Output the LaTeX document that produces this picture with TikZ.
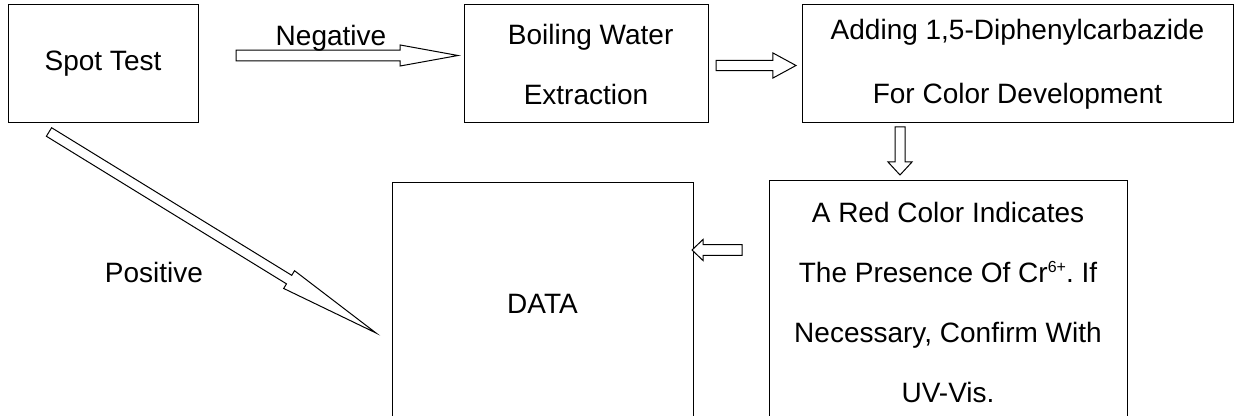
\documentclass[tikz,border=0pt]{standalone}
\usepackage{fontspec}
\setmainfont{Liberation Sans}
\usetikzlibrary{calc}
\frenchspacing

\tikzset{every picture/.style={line width=0.75pt}}
\tikzset{
  box/.style={draw, rectangle, inner sep=0pt, align=center, font=\fontsize{21}{45}\selectfont},
  lbl/.style={inner sep=0pt, font=\fontsize{21}{25}\selectfont},
  blockarrow/.style={draw, fill=white, line join=miter}
}

% small raised charge
\newcommand{\chg}[1]{\raisebox{0.33em}{\fontsize{12}{12}\selectfont #1}}

% block arrow: from, to, shaft half width, head half width, head length
\newcommand{\blockarrow}[5]{%
  \path ($(#2)!#5!(#1)$) coordinate (bah);
  \draw[blockarrow] ($(#1)!#3!90:(#2)$) -- ($(bah)!#3!90:(#2)$) -- ($(bah)!#4!90:(#2)$)
    -- (#2) -- ($(bah)!#4!-90:(#2)$) -- ($(bah)!#3!-90:(#2)$) -- ($(#1)!#3!-90:(#2)$) -- cycle ;
}

\begin{document}
\begin{tikzpicture}[x=0.75pt,y=0.75pt,yscale=-1,xscale=1]
	\useasboundingbox (0,0) rectangle (1235,416);
	\clip (0,0) rectangle (1235,416);

	%Shape: Rectangle [spot]
	\node[box, minimum width=142.5pt, minimum height=88.5pt] (spot) at (103,64) {Spot Test};
	%Shape: Rectangle [boil]
	\node[box, minimum width=183pt, minimum height=88.5pt] (boil) at (586,64) {\hspace*{7pt}Boiling Water\\Extraction};
	%Shape: Rectangle [adding]
	\node[box, minimum width=323.25pt, minimum height=88.5pt] (adding) at (1017.5,64) {Adding 1,5-Diphenylcarbazide\\[3pt]For Color Development};
	%Shape: Rectangle [red]
	\node[box, minimum width=268.5pt, minimum height=181.5pt] (red) at (948,302) {A Red Color Indicates\\The Presence Of Cr\chg{6+}. If\\Necessary, Confirm With\\UV-Vis.};
	%Shape: Rectangle [data]
	\node[box, minimum width=225.75pt, minimum height=181.5pt] (data) at (542.5,304) {DATA};

	% arrow ends
	\coordinate (negA) at (236,55.5);
	\coordinate (negB) at (458,55.5);
	\coordinate (extA) at (716,65.5);
	\coordinate (extB) at (796,65.5);
	\coordinate (colA) at (900,127);
	\coordinate (colB) at (900,175);
	\coordinate (resA) at (742,250);
	\coordinate (resB) at (692,250);
	\coordinate (posA) at (49,132);
	\coordinate (posB) at (376,333);

	%Block Arrows
	\blockarrow{negA}{negB}{4.1pt}{7.9pt}{43.5pt}
	\blockarrow{extA}{extB}{3.9pt}{9.4pt}{17.3pt}
	\blockarrow{colA}{colB}{3.75pt}{9pt}{9.75pt}
	\blockarrow{resA}{resB}{4.1pt}{7.9pt}{8.25pt}
	\blockarrow{posA}{posB}{3.75pt}{7.8pt}{76.5pt}

	% Text Node
	\node[lbl] (neg) at (331,38) {Negative};
	% Text Node
	\node[lbl] (pos) at (154,272) {Positive};

\end{tikzpicture}
\end{document}
